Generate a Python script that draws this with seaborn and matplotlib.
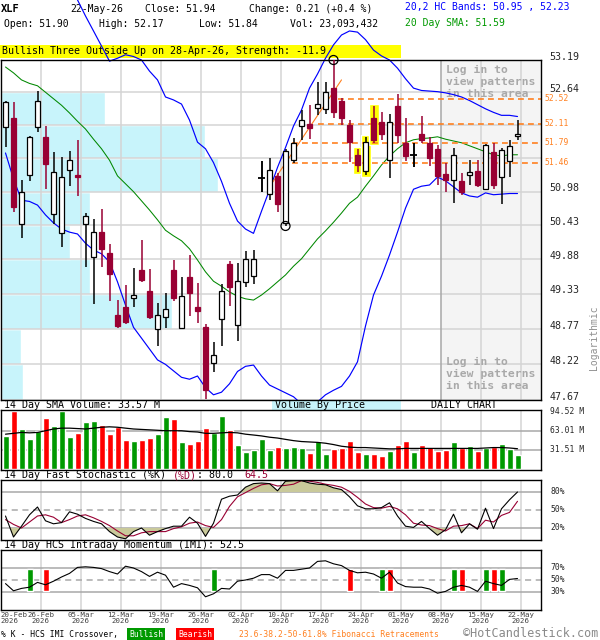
import matplotlib
matplotlib.use("Agg")
import matplotlib.pyplot as plt
import matplotlib.transforms as mtrans
from matplotlib.patches import Rectangle
import numpy as np
import seaborn as sns

sns.set_style("white")
plt.rcParams['font.family'] = ['DejaVu Sans Mono', 'DejaVu Sans']

# ---- daily candles, 20-Feb-2026 .. 22-May-2026 (65 sessions) ----
opn = np.array([52.05, 52.20, 50.45, 51.25, 52.06, 51.88, 50.61, 50.30, 51.33, 51.25,
                50.45, 49.92, 50.33, 49.98, 48.99, 49.12, 49.26, 49.71, 49.37, 48.77,
                48.96, 49.71, 48.79, 49.60, 49.12, 48.81, 48.24, 48.93, 49.81, 48.83,
                49.51, 49.62, 51.20, 50.94, 51.24, 50.47, 51.51, 52.07, 52.10, 52.37,
                52.35, 52.72, 52.49, 52.09, 51.59, 51.32, 52.20, 52.14, 51.51, 52.41,
                51.79, 51.59, 51.94, 51.79, 51.68, 51.27, 51.18, 51.16, 51.26, 51.32,
                51.02, 51.64, 51.23, 51.48, 51.90])
high = np.array([52.50, 52.47, 51.18, 51.90, 52.66, 52.07, 51.63, 51.55, 51.65, 51.84,
                 50.63, 50.53, 50.70, 50.13, 49.23, 49.47, 49.74, 50.19, 49.72, 49.18,
                 49.34, 49.87, 49.60, 49.95, 49.50, 48.85, 48.57, 49.48, 49.85, 49.82,
                 50.01, 50.03, 51.49, 51.54, 51.29, 51.68, 51.87, 52.34, 52.42, 52.81,
                 52.82, 53.19, 52.54, 52.17, 51.69, 51.89, 52.41, 52.31, 52.28, 52.61,
                 52.20, 51.78, 52.24, 51.89, 51.75, 51.46, 51.70, 51.28, 51.50, 51.50,
                 51.77, 51.79, 51.71, 51.84, 52.17])
low = np.array([51.72, 50.64, 50.23, 51.16, 51.97, 51.02, 50.46, 50.08, 51.07, 50.91,
                49.75, 49.17, 49.75, 49.22, 48.79, 48.85, 49.12, 49.51, 48.93, 48.51,
                48.79, 49.22, 48.78, 48.98, 48.87, 47.68, 48.10, 48.51, 49.14, 48.59,
                49.44, 49.49, 50.97, 50.84, 50.64, 50.42, 51.45, 51.84, 51.86, 52.26,
                52.27, 52.20, 52.09, 51.47, 51.31, 51.25, 51.78, 51.84, 51.20, 51.78,
                51.49, 51.38, 51.78, 51.40, 51.09, 50.97, 50.80, 50.93, 51.09, 51.06,
                51.01, 51.03, 50.78, 51.22, 51.84])
close = np.array([52.48, 50.73, 50.98, 51.88, 52.50, 51.43, 51.30, 51.22, 51.50, 51.22,
                  50.58, 50.33, 50.05, 49.64, 48.82, 48.89, 49.31, 49.55, 48.97, 48.99,
                  49.09, 49.27, 49.29, 49.34, 49.05, 47.82, 48.36, 49.37, 49.44, 49.53,
                  49.88, 49.88, 51.21, 51.33, 50.77, 51.66, 51.78, 52.17, 52.03, 52.44,
                  52.64, 52.30, 52.21, 51.81, 51.42, 51.81, 51.84, 51.93, 52.13, 51.92,
                  51.57, 51.59, 51.84, 51.54, 51.24, 51.17, 51.58, 50.98, 51.30, 51.09,
                  51.75, 51.09, 51.67, 51.74, 51.94])
nan = np.nan
hc_upper = np.array([nan, nan, nan, nan, nan, nan, nan, nan, nan, 54.23,
                     53.95, 53.69, 53.43, 53.17, 53.22, 53.28, 53.25, 53.19, 53.00, 52.85,
                     52.56, 52.51, 52.44, 52.17, 51.80, 51.69, 51.46, 51.15, 50.79, 50.50,
                     50.37, 50.30, 50.66, 51.01, 51.38, 51.71, 52.07, 52.34, 52.71, 52.95,
                     53.22, 53.45, 53.62, 53.69, 53.67, 53.54, 53.36, 53.26, 53.19, 53.05,
                     52.87, 52.71, 52.67, 52.66, 52.65, 52.63, 52.60, 52.56, 52.50, 52.43,
                     52.36, 52.30, 52.25, 52.25, 52.23])
hc_lower = np.array([51.62, 51.19, 50.84, 50.82, 50.76, 50.60, 50.47, 50.37, 50.32, 50.29,
                     50.14, 50.03, 49.97, 49.84, 49.52, 49.15, 48.80, 48.63, 48.46, 48.29,
                     48.22, 48.12, 48.02, 47.99, 48.04, 47.86, 47.75, 47.79, 47.92, 48.11,
                     48.19, 48.21, 48.04, 47.90, 47.84, 47.78, 47.72, 47.61, 47.58, 47.64,
                     47.75, 47.82, 47.88, 48.04, 48.26, 48.82, 49.31, 49.61, 49.95, 50.32,
                     50.71, 51.02, 51.07, 51.09, 51.22, 51.16, 51.06, 50.96, 50.91, 50.89,
                     50.96, 50.93, 50.94, 50.95, 50.95])
sma20 = np.array([53.07, 52.97, 52.85, 52.79, 52.75, 52.64, 52.53, 52.42, 52.29, 52.15,
                  52.02, 51.85, 51.69, 51.50, 51.24, 51.11, 50.98, 50.83, 50.68, 50.52,
                  50.35, 50.26, 50.18, 50.05, 49.87, 49.68, 49.53, 49.45, 49.36, 49.29,
                  49.25, 49.23, 49.31, 49.41, 49.52, 49.63, 49.77, 49.89, 50.05, 50.21,
                  50.34, 50.48, 50.63, 50.79, 50.89, 51.07, 51.24, 51.42, 51.57, 51.69,
                  51.79, 51.84, 51.86, 51.87, 51.89, 51.85, 51.82, 51.79, 51.74, 51.69,
                  51.64, 51.59, 51.57, 51.59, 51.59])
volume_m = np.array([54.7, 96.0, 66.3, 49.8, 63.5, 84.3, 71.2, 96.4, 53.1, 59.7,
                     77.2, 79.3, 72.9, 58.0, 70.0, 48.7, 46.5, 48.7, 51.4, 58.0,
                     85.9, 82.6, 44.8, 41.5, 46.5, 67.9, 59.1, 87.6, 64.6, 40.0,
                     28.5, 31.8, 50.4, 31.8, 36.7, 35.5, 36.7, 35.5, 26.8, 46.5,
                     25.2, 33.4, 34.5, 46.5, 28.5, 25.2, 25.2, 21.9, 30.6, 40.0,
                     46.5, 28.5, 40.0, 36.7, 30.6, 31.8, 44.8, 35.5, 38.2, 30.6,
                     34.5, 36.7, 41.5, 33.4, 23.1])
vol_sma14 = np.array([57.7, 59.1, 60.6, 59.9, 60.6, 63.4, 66.3, 67.7, 67.7, 67.0,
                      66.3, 67.7, 69.2, 69.9, 69.2, 67.7, 66.3, 65.6, 64.9, 64.2,
                      63.4, 63.4, 63.4, 62.0, 61.3, 59.1, 59.1, 59.9, 60.6, 59.9,
                      57.7, 56.3, 54.8, 52.7, 51.3, 49.1, 47.0, 45.5, 44.8, 44.1,
                      42.7, 40.5, 37.7, 36.2, 35.5, 35.5, 34.8, 34.1, 33.4, 33.4,
                      34.1, 34.1, 34.1, 34.1, 34.1, 34.1, 34.1, 34.1, 34.1, 34.1,
                      34.8, 35.5, 35.5, 34.8, 33.6])
stoch_k = np.array([40, 5, 23, 42, 55, 32, 27, 29, 47, 43,
                    36, 31, 27, 14, 5, 2, 14, 20, 8, 14,
                    19, 23, 23, 38, 28, 6, 28, 68, 73, 75,
                    88, 94, 95, 94, 82, 98, 99, 99, 95, 93,
                    92, 87, 84, 72, 57, 52, 52, 54, 62, 40,
                    23, 21, 31, 19, 8, 17, 43, 12, 27, 18,
                    53, 19, 52, 67, 80.0])
stoch_d = np.array([34, 26, 20, 30, 40, 42, 38, 29, 34, 40,
                    42, 37, 31, 24, 15, 7, 7, 12, 14, 14,
                    14, 19, 22, 28, 30, 24, 21, 34, 56, 72,
                    79, 86, 92, 94, 90, 91, 93, 99, 98, 96,
                    93, 91, 88, 81, 71, 60, 54, 53, 56, 52,
                    42, 28, 25, 24, 19, 15, 23, 24, 27, 19,
                    33, 30, 41, 46, 64.5])
imi = np.array([44, 32, 36, 38, 46, 42, 48, 55, 61, 71,
                72, 71, 69, 64, 60, 73, 70, 64, 56, 63,
                58, 38, 44, 41, 37, 22, 27, 36, 35, 48,
                50, 53, 59, 59, 53, 66, 66, 68, 70, 81,
                82, 77, 74, 66, 62, 63, 60, 53, 63, 45,
                39, 38, 38, 35, 28, 31, 38, 41, 38, 31,
                48, 44, 41, 51, 52.5])
imi_bull_idx = [3, 26, 47, 56, 60, 62]
imi_bear_idx = [5, 43, 48, 57, 61]

price_grid = [47.67, 48.22, 48.77, 49.33, 49.88, 50.43, 50.98, 51.53, 52.09, 52.64, 53.19]
price_labels = [47.67, 48.22, 48.77, 49.33, 49.88, 50.43, 50.98, 52.64, 53.19]
# volume by price, relative, one value per price band (bottom to top)
vbp_rel_volume = [22, 20, 171, 89, 69, 89, 217, 204, 104, 0]
fib_levels = [52.52, 52.11, 51.79, 51.46]
fib_start = [41.6, 39.0, 35.8, 35.8]
fib_trend_x = [32.9, 42.0]
fib_trend_p = [51.04, 52.85]
swing_low_idx, swing_high_idx = 35, 41
pattern_idx = [44, 45, 46]
tick_idx = [0, 4, 9, 14, 19, 24, 29, 34, 39, 44, 49, 54, 59, 64]
tick_dates = ["20-Feb", "26-Feb", "05-Mar", "12-Mar", "19-Mar", "26-Mar", "02-Apr",
              "10-Apr", "17-Apr", "24-Apr", "01-May", "08-May", "15-May", "22-May"]

idx = np.arange(len(close))
W, H = 600, 640
RED_C = '#990033'
GRID = '#d4d4d4'
DARKGRID = '#a8a8a8'
ORANGE = '#ff8020'
XMIN, XMAX = -0.625, 66.875
week_lines = np.arange(4.375, 65, 5)

fig = plt.figure(figsize=(6, 6.4), dpi=100)


def panel(x0, y0, x1, y1):
    a = fig.add_axes([x0 / W, 1 - y1 / H, (x1 - x0) / W, (y1 - y0) / H])
    a.set_xlim(XMIN, XMAX)
    a.tick_params(which='both', left=False, bottom=False, labelleft=False, labelbottom=False)
    for s in a.spines.values():
        s.set_color('black')
        s.set_linewidth(1.0)
    return a


def ftext(x, y, s, size=7.2, color='black', ha='left', **kw):
    return fig.text(x / W, 1 - y / H, s, fontsize=size, color=color, ha=ha, va='center', **kw)


# ---------------- main price panel ----------------
ax = panel(0.5, 60, 540.5, 400)
ax.set_yscale('log')
ax.set_ylim(price_grid[0], price_grid[-1])
ax.yaxis.set_minor_locator(matplotlib.ticker.NullLocator())
ax.yaxis.set_major_locator(matplotlib.ticker.NullLocator())

ax.axvspan(54.375, XMAX, color='#f4f4f4', zorder=0.2)
for k in range(len(vbp_rel_volume)):
    ax.barh(price_grid[k], vbp_rel_volume[k] / 8.0, height=price_grid[k + 1] - price_grid[k],
            left=XMIN, align='edge', color='#c8f4fb', zorder=0.5)
for p in price_grid:
    ax.axhline(p, color=GRID, lw=1.1, zorder=1)
for xv in week_lines:
    ax.axvline(xv, color=DARKGRID if xv == 54.375 else GRID, lw=1.1, zorder=1)

for txt_y in (82, 374):
    ax.text(446 / W, 1 - txt_y / H, "Log in to\nview patterns\nin this area",
            transform=fig.transFigure, fontsize=8.2, weight='bold', color='#a9a9a9',
            va='center', ha='left', linespacing=1.25, zorder=1.5)

# pattern highlight
pad = 0.035
ax.bar(pattern_idx, high[pattern_idx] - low[pattern_idx] + 2 * pad, bottom=low[pattern_idx] - pad,
       width=1.25, color='#ffff00', zorder=1.8)

sns.lineplot(x=idx, y=sma20, ax=ax, color='#008800', lw=0.75, legend=False, zorder=2)
sns.lineplot(x=idx, y=hc_lower, ax=ax, color='#0000ff', lw=0.85, legend=False, zorder=2)
sns.lineplot(x=idx, y=hc_upper, ax=ax, color='#0000ff', lw=0.85, legend=False, zorder=2,
             clip_on=False)

for lev, st in zip(fib_levels, fib_start):
    ax.hlines(lev, st, XMAX, colors=ORANGE, lw=1.2, linestyles=(0, (3.5, 2.5)), zorder=2.2)
ax.plot(fib_trend_x, fib_trend_p, color=ORANGE, lw=0.8, zorder=2.2)

up = close >= opn
doji = np.abs(close - opn) < 0.025
wick_col = np.where(up, 'black', RED_C)
ax.vlines(idx, low, high, colors=wick_col, lw=1.1, zorder=3)
body_lo = np.minimum(opn, close)
body_h = np.maximum(np.abs(close - opn), 0.025)
m = ~doji & up
ax.bar(idx[m], body_h[m], bottom=body_lo[m], width=0.7, facecolor='white',
       edgecolor='black', lw=0.9, zorder=4)
m = ~doji & ~up
ax.bar(idx[m], body_h[m], bottom=body_lo[m], width=0.7, facecolor=RED_C,
       edgecolor=RED_C, lw=0.9, zorder=4)
ax.hlines(close[doji], idx[doji] - 0.4, idx[doji] + 0.4, colors='black', lw=1.3, zorder=4)
ax.vlines(idx[doji], low[doji], high[doji], colors='black', lw=1.1, zorder=4)

ax.scatter([swing_low_idx, swing_high_idx], [low[swing_low_idx], high[swing_high_idx]],
           s=42, facecolors='none', edgecolors='black', lw=0.9, zorder=5, clip_on=False)
ax.set_xlabel('')
ax.set_ylabel('')
ax.set_xlim(XMIN, XMAX)

ytr_b = mtrans.offset_copy(ax.get_yaxis_transform(), fig=fig, y=3.5, units='dots')
ytr_o = mtrans.offset_copy(ax.get_yaxis_transform(), fig=fig, y=0.5, units='dots')
for p in price_labels:
    ax.text(1.016, p, f"{p:.2f}", transform=ytr_b, fontsize=7.2, va='center', ha='left',
            clip_on=False)
for p in fib_levels:
    ax.text(1.008, p, f"{p:.2f}", transform=ytr_o, fontsize=5.8, color=ORANGE, va='center',
            ha='left', clip_on=False)
ftext(594, 338, "Logarithmic", size=7, color='#909090', rotation=90, ha='center')

# ---------------- header ----------------
hz = dict(zorder=-1)
ftext(1, 9, "XLF", size=7.5, weight='bold', **hz)
ftext(70, 9, "22-May-26", size=7, **hz)
ftext(145, 9, "Close: 51.94", size=7, **hz)
ftext(249, 9, "Change: 0.21 (+0.4 %)", size=7, **hz)
ftext(4, 24, "Open: 51.90", size=7, **hz)
ftext(99, 24, "High: 52.17", size=7, **hz)
ftext(199, 24, "Low: 51.84", size=7, **hz)
ftext(290, 24, "Vol: 23,093,432", size=7, **hz)
ftext(405, 7, "20,2 HC Bands: 50.95 , 52.23", size=7, color='#0000ff', **hz)
ftext(405, 23, "20 Day SMA: 51.59", size=7, color='#009900', **hz)
fig.patches.append(Rectangle((0, 1 - 57.5 / H), 401 / W, 12.5 / H, transform=fig.transFigure,
                             facecolor='#ffff00', edgecolor='none', zorder=-2))
ftext(2, 51.5, "Bullish Three Outside Up on 28-Apr-26, Strength: -11.9", size=7.2, **hz)

# ---------------- volume panel ----------------
axv = panel(0.5, 410, 540.5, 470)
axv.set_ylim(-1.7, 97.8)
for xv in week_lines:
    axv.axvline(xv, color=GRID, lw=1.1, zorder=0)
for lv in (63.01, 31.51):
    axv.axhline(lv, color=DARKGRID, lw=1.1, zorder=0.5)
axv.bar(idx, volume_m, width=0.75, color=np.where(up, '#009900', '#ff0000'), zorder=1)
sns.lineplot(x=idx, y=vol_sma14, ax=axv, color='black', lw=0.9, legend=False, zorder=2)
axv.set_xlabel('')
axv.set_ylabel('')
axv.set_xlim(XMIN, XMAX)
for lv in (94.52, 63.01, 31.51):
    axv.text(1.018, lv, f"{lv:.2f} M", transform=axv.get_yaxis_transform(), fontsize=5.8,
             va='center', ha='left', clip_on=False)
ftext(4, 405.5, "14 Day SMA Volume: 33.57 M")
fig.patches.append(Rectangle((272 / W, 1 - 409.5 / H), 129 / W, 9.5 / H, transform=fig.transFigure,
                             facecolor='#c8f4fb', edgecolor='none', zorder=-2))
ftext(275, 405.5, "Volume By Price")
ftext(431, 405.5, "DAILY CHART")

# ---------------- stochastic panel ----------------
axs = panel(0.5, 480, 540.5, 540)
axs.set_ylim(0, 100)
for xv in week_lines:
    axs.axvline(xv, color=GRID, lw=1.1, zorder=0)
axs.axhline(80, color=DARKGRID, lw=1.1, zorder=0.5)
axs.axhline(20, color=DARKGRID, lw=1.1, zorder=0.5)
axs.axhline(50, color=DARKGRID, lw=1.1, ls=(0, (4, 3)), zorder=0.5)
olive = '#c9c99a'
axs.fill_between(idx, stoch_k, 80, where=stoch_k >= 80, interpolate=True, color=olive, lw=0, zorder=0.8)
axs.fill_between(idx, stoch_k, 20, where=stoch_k <= 20, interpolate=True, color=olive, lw=0, zorder=0.8)
sns.lineplot(x=idx, y=stoch_d, ax=axs, color=RED_C, lw=0.8, legend=False, zorder=2)
sns.lineplot(x=idx, y=stoch_k, ax=axs, color='black', lw=0.8, legend=False, zorder=2.1)
axs.set_xlabel('')
axs.set_ylabel('')
axs.set_xlim(XMIN, XMAX)
for lv in (80, 50, 20):
    axs.text(1.018, lv, f"{lv}%", transform=axs.get_yaxis_transform(), fontsize=5.8,
             va='center', ha='left', clip_on=False)
cw = 0.602 * 7.2 * 100 / 72
ftext(4, 475.5, "14 Day Fast Stochastic (%K) ")
ftext(4 + 28 * cw, 475.5, "(%D)", color=RED_C)
ftext(4 + 32 * cw, 475.5, ": 80.0")
ftext(4 + 40 * cw, 475.5, "64.5", color=RED_C)

# ---------------- IMI panel ----------------
axi = panel(0.5, 550, 540.5, 610)
axi.set_ylim(0, 100)
for xv in week_lines:
    axi.axvline(xv, color=GRID, lw=1.1, zorder=0)
axi.axhline(70, color=DARKGRID, lw=1.1, zorder=0.5)
axi.axhline(30, color=DARKGRID, lw=1.1, zorder=0.5)
axi.axhline(50, color=DARKGRID, lw=1.1, ls=(0, (4, 3)), zorder=0.5)
axi.bar(imi_bull_idx, 36, bottom=32, width=0.75, color='#009900', zorder=1)
axi.bar(imi_bear_idx, 36, bottom=32, width=0.75, color='#ff0000', zorder=1)
sns.lineplot(x=idx, y=imi, ax=axi, color='black', lw=0.8, legend=False, zorder=2)
axi.set_xlabel('')
axi.set_ylabel('')
axi.set_xlim(XMIN, XMAX)
for lv in (70, 50, 30):
    axi.text(1.018, lv, f"{lv}%", transform=axi.get_yaxis_transform(), fontsize=5.8,
             va='center', ha='left', clip_on=False)
ftext(4, 545.5, "14 Day HCS Intraday Momentum (IMI): 52.5")

tick_pos = [i + 0.375 for i in tick_idx]
tick_pos[0] = XMIN
axi.set_xticks(tick_pos)
axi.set_xticklabels([f"{d}\n2026" for d in tick_dates], fontsize=5.3, color='#404040',
                    linespacing=0.95)
axi.tick_params(axis='x', which='both', bottom=False, labelbottom=True, length=0, pad=1.5)
axi.get_xticklabels()[0].set_ha('left')

# ---------------- footer ----------------
ftext(1, 634.5, "% K - HCS IMI Crossover,", size=5.8)
ftext(129, 634.5, "Bullish", size=5.8, color='white',
      bbox=dict(facecolor='#009900', edgecolor='none', pad=1.3))
ftext(178, 634.5, "Bearish", size=5.8, color='white',
      bbox=dict(facecolor='#ff0000', edgecolor='none', pad=1.3))
ftext(239, 634.5, "23.6-38.2-50-61.8% Fibonacci Retracements", size=5.8, color=ORANGE)
ftext(463, 633.5, "\u00a9HotCandlestick.com", size=8.5, color='#8a8a8a')

fig.savefig("out.png", dpi=100)
